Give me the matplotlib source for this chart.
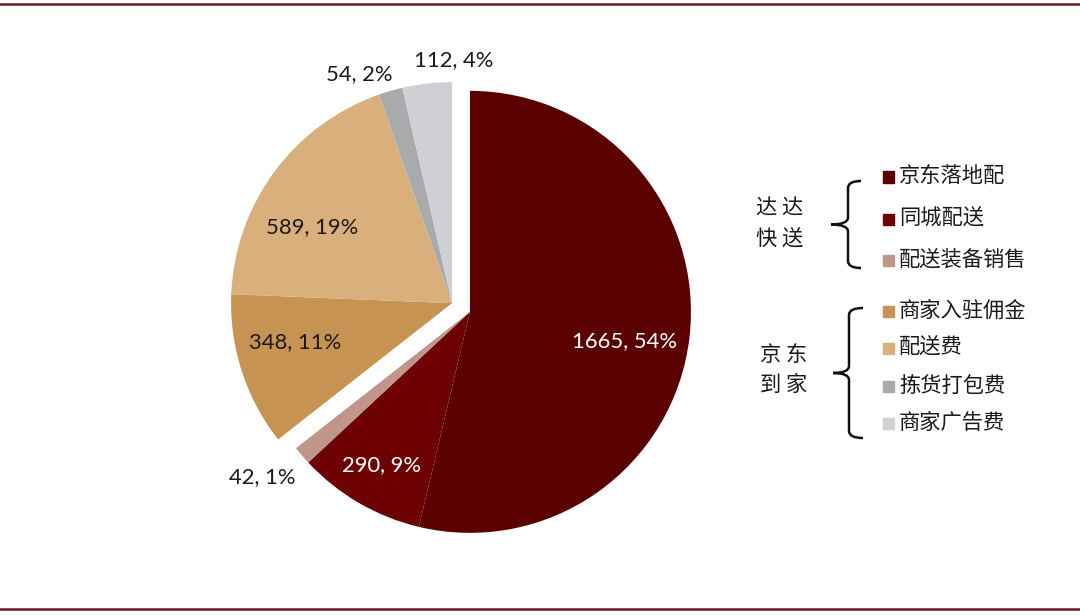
import numpy as np
import matplotlib.pyplot as plt
from matplotlib.path import Path
from matplotlib.patches import PathPatch

plt.rcParams['font.family'] = ['Lato', 'Noto Sans CJK SC', 'DejaVu Sans']

# data
items = ['京东落地配', '同城配送', '配送装备销售', '商家入驻佣金', '配送费', '拣货打包费', '商家广告费']
values = [1665, 290, 42, 348, 589, 54, 112]
groups = [0, 0, 0, 1, 1, 1, 1]
group_names = ['达 达\n快 送', '京 东\n到 家']

colors = ['#5a0000', '#6e0202', '#c0958a', '#c79353', '#d9b07c', '#a9aaac', '#cfd0d3']
label_colors = ['white', 'white', '#1a1a1a', '#1a1a1a', '#1a1a1a', '#1a1a1a', '#1a1a1a']
label_r = [0.71, 0.80, 1.20, 0.73, 0.72, 1.12, 1.10]
label_da = [-4, 0, -2, -4, 8, 6, -7]

W, H = 1080, 615
R = 221.0          # pie radius in px
cx, cy = 461, 307.5  # pie centre in px (from top)
shift = 0.045      # group explode (fraction of radius)

fig = plt.figure(figsize=(W / 100, H / 100), dpi=100)
ax = fig.add_axes([0, 0, 1, 1])
wedges, _ = ax.pie(values, colors=colors, startangle=90, counterclock=False,
                   radius=1, wedgeprops=dict(linewidth=0))
ax.set_xlim(-cx / R, (W - cx) / R)
ax.set_ylim(-(H - cy) / R, cy / R)
ax.set_aspect('auto')
ax.axis('off')

total = sum(values)
fr = np.array(values) / total
# group direction: mid angle of each group
ends = 90 - 360 * np.cumsum(fr)
starts = ends + 360 * fr
g0 = [i for i, g in enumerate(groups) if g == 0]
g_mid = (starts[g0[0]] + ends[g0[-1]]) / 2
d = np.array([np.cos(np.radians(g_mid)), np.sin(np.radians(g_mid))])
offsets = [d * shift, -d * shift]

for i, w in enumerate(wedges):
    off = offsets[groups[i]]
    w.set_center(tuple(off))
    mid = (starts[i] + ends[i]) / 2 + label_da[i]
    x = off[0] + label_r[i] * np.cos(np.radians(mid))
    y = off[1] + label_r[i] * np.sin(np.radians(mid))
    ax.text(x, y, f'{values[i]}, {fr[i] * 100:.0f}%', ha='center', va='center',
            fontsize=15.8, color=label_colors[i])


def px(x, y):
    return x / W, 1 - y / H


# legend
rows_y = [177, 219, 260, 311, 348, 386, 423]
for i, name in enumerate(items):
    xs, ys = px(883, rows_y[i] - 5.5)
    fig.patches.append(plt.Rectangle((xs, ys - 11 / H), 11 / W, 11 / H,
                                     transform=fig.transFigure, color=colors[i]))
    fig.text(*px(899, rows_y[i]), name, fontsize=15.3, va='center', ha='left',
             family=['Noto Sans CJK SC'], color='#1a1a1a')

# group names
fig.text(*px(780, 224), group_names[0], fontsize=15.3, ha='center', va='center',
         family=['Noto Sans CJK SC'], linespacing=1.5, color='#1a1a1a')
fig.text(*px(784, 370), group_names[1], fontsize=15.3, ha='center', va='center',
         family=['Noto Sans CJK SC'], linespacing=1.5, color='#1a1a1a')


def brace(x, y0, y1, tip, hook):
    ym = (y0 + y1) / 2
    c = 7
    verts = [(x + hook, y0), (x, y0), (x, y0 + c), (x, ym - c), (x, ym),
             (tip, ym), (x, ym), (x, ym + c), (x, y1 - c), (x, y1), (x + hook, y1)]
    codes = [Path.MOVETO, Path.CURVE3, Path.CURVE3, Path.LINETO, Path.CURVE3, Path.CURVE3,
             Path.CURVE3, Path.CURVE3, Path.LINETO, Path.CURVE3, Path.CURVE3]
    verts = [px(a, b) for a, b in verts]
    fig.patches.append(PathPatch(Path(verts, codes), transform=fig.transFigure,
                                 fill=False, lw=1.8, color='#111111'))


brace(848, 181, 268, 831, 13)
brace(849, 308, 438, 833, 14)

# frame lines
for yy in (4, 609):
    fig.add_artist(plt.Line2D([0, 1], [1 - yy / H] * 2, transform=fig.transFigure,
                              color='#6b1c22', lw=1.8))

fig.savefig('out.png', dpi=100, facecolor='white')
